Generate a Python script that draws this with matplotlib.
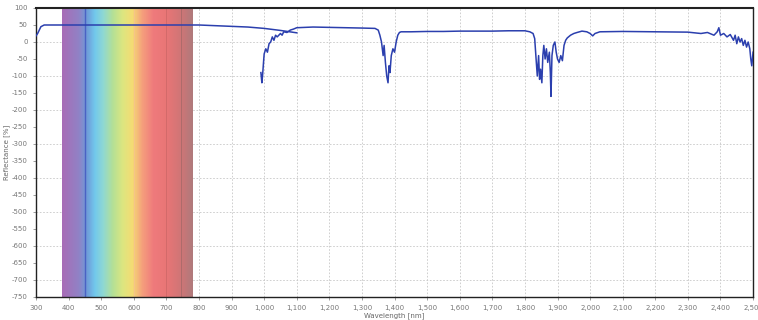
import matplotlib
matplotlib.use('Agg')
import matplotlib.pyplot as plt
import numpy as np
from matplotlib.colors import LinearSegmentedColormap

# data: UV-Vis detector segment
wl_vis = [300, 305, 315, 325, 400, 500, 600, 700, 800, 850, 900, 950, 1000, 1050, 1100]
val_vis = [18, 25, 45, 50, 50, 50, 50, 50, 50, 48, 46, 44, 40, 34, 27]

# data: NIR detector segment
wl_nir = [990, 993, 995, 998, 1000, 1005, 1010, 1015, 1020, 1025, 1030, 1035, 1040, 1050,
          1055, 1060, 1070, 1080, 1090, 1100, 1150, 1200, 1250, 1300, 1340, 1350, 1355,
          1360, 1365, 1368, 1372, 1376, 1380, 1383, 1386, 1390, 1395, 1400, 1405, 1410,
          1415, 1420, 1450, 1500, 1550, 1600, 1650, 1700, 1750, 1800, 1815, 1825, 1830,
          1835, 1838, 1842, 1845, 1848, 1852, 1855, 1858, 1862, 1866, 1870, 1875, 1878,
          1880, 1883, 1887, 1892, 1896, 1900, 1905, 1910, 1915, 1920, 1925, 1930, 1940,
          1950, 1960, 1975, 1990, 2000, 2008, 2015, 2030, 2100, 2200, 2300, 2320, 2340,
          2360, 2380, 2390, 2395, 2400, 2410, 2420, 2430, 2440, 2445, 2450, 2455, 2460,
          2465, 2470, 2475, 2480, 2485, 2490, 2493, 2496, 2500]
val_nir = [-90, -120, -100, -60, -35, -20, -30, -5, 0, 15, 5, 20, 15, 25,
           20, 30, 28, 35, 38, 42, 44, 43, 42, 41, 40, 35, 20,
           0, -40, -10, -60, -100, -120, -70, -90, -40, -20, -30, 0, 20,
           28, 30, 30, 31, 31, 32, 32, 32, 33, 33, 30, 25, 10,
           -60, -100, -40, -110, -80, -120, -40, -10, -50, -20, -60, -30, -90,
           -160, -40, -10, 0, -30, -50, -60, -40, -55, -10, 5, 12, 20,
           25, 28, 32, 30, 25, 18, 25, 30, 31, 30, 29, 27, 25,
           28, 20, 30, 42, 20, 25, 15, 22, 5, 20, -5, 15, 0,
           10, -10, 5, -15, 0, -20, -50, -70, -30]

# visible spectrum band
band_wl = [380, 430, 455, 480, 505, 535, 565, 595, 625, 660, 700, 745, 780]
band_col = ['#a86cb6', '#9182c6', '#6f9ad8', '#72c8ec', '#8ed8d4', '#b4e096', '#dce680',
            '#f4dc74', '#f5a07c', '#ef7a7c', '#e97676', '#cf7576', '#b07a7c']

xticks = list(range(300, 2501, 100))
yticks = list(range(-750, 101, 50))

fig = plt.figure(figsize=(7.58, 3.2), dpi=100)
ax = fig.add_axes([0.0475, 0.072, 0.946, 0.903])

pos = [(w - band_wl[0]) / (band_wl[-1] - band_wl[0]) for w in band_wl]
cmap = LinearSegmentedColormap.from_list('spec', list(zip(pos, band_col)))
grad = np.linspace(0, 1, 400).reshape(1, -1)
ax.imshow(grad, cmap=cmap, aspect='auto', extent=(band_wl[0], band_wl[-1], -750, 100),
          zorder=1)
ax.axvline(450, color='#4a62c4', lw=1, zorder=2)
ax.axvline(600, color='#f6c488', lw=0.8, zorder=2)
ax.axvline(700, color='#d06868', lw=0.6, zorder=2)
ax.axvline(745, color='#a86a6a', lw=0.6, zorder=2)

ax.plot(wl_vis, val_vis, color='#2b3fae', lw=1.1, zorder=4)
ax.plot(wl_nir, val_nir, color='#2b3fae', lw=1.1, zorder=4)

ax.set_xlim(300, 2500)
ax.set_ylim(-750, 100)
ax.set_xticks(xticks)
ax.set_xticklabels([f'{t:,}' for t in xticks], fontsize=5, color='#666666')
ax.set_yticks(yticks)
ax.set_yticklabels([str(t) for t in yticks], fontsize=5, color='#666666')
ax.tick_params(length=2, width=0.5, colors='#777777', pad=4)

for t in xticks:
    ax.axvline(t, color='#c8c8c8', lw=0.6, linestyle=(0, (2, 2)), zorder=0)
for t in range(-700, 100, 100):
    ax.axhline(t, color='#c8c8c8', lw=0.6, linestyle=(0, (2, 2)), zorder=0)

for s in ax.spines.values():
    s.set_color('#222222')
    s.set_linewidth(1.0)
ax.spines['top'].set_linewidth(1.5)

ax.set_xlabel('Wavelength [nm]', fontsize=5, color='#666666', labelpad=1)
ax.set_ylabel('Reflectance [%]', fontsize=5, color='#666666', labelpad=1)

fig.savefig('out.png', dpi=100)
